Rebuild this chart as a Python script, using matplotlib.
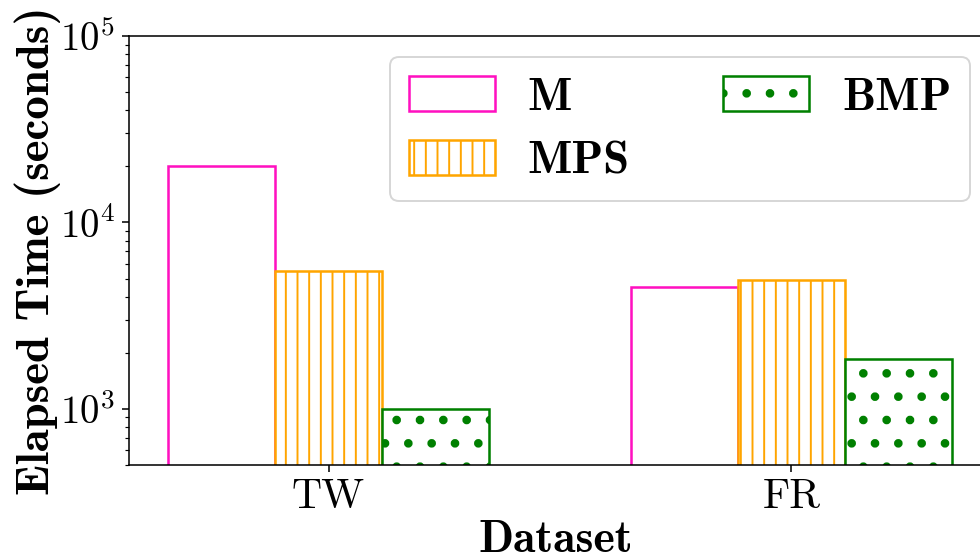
import matplotlib
matplotlib.use("Agg")
import matplotlib.pyplot as plt
import numpy as np

datasets = ["TW", "FR"]
methods = ["M", "MPS", "BMP"]
m_vals = [20000, 4500]
mps_vals = [5500, 4900]
bmp_vals = [1000, 1850]

colors = ["#ff10c0", "orange", "green"]
hatches = [None, "||", "."]
hatch_lw = [1.0, 1.0, 2.0]

plt.rcParams["mathtext.fontset"] = "cm"
plt.rcParams["font.family"] = "cmr10"
plt.rcParams["axes.formatter.use_mathtext"] = True

DPI = 140
fig = plt.figure(figsize=(980 / DPI, 560 / DPI), dpi=DPI)
ax = fig.add_axes([129 / 980, 1 - 465 / 560, (991 - 129) / 980, (465 - 36) / 560])

x = np.arange(len(datasets))
w = 0.231
series = [m_vals, mps_vals, bmp_vals]
for i, (vals, lab, c, h) in enumerate(zip(series, methods, colors, hatches)):
    plt.rcParams["hatch.linewidth"] = hatch_lw[i]
    ax.bar(x + (i - 1) * w, vals, w, label=lab, facecolor="white", edgecolor=c,
           hatch=h, linewidth=1.3)
plt.rcParams["hatch.linewidth"] = 1.0

ax.set_yscale("log")
ax.set_ylim(500, 1e5)
ax.set_xlim(-0.431, 1.431)
ax.set_xticks(x)
ax.set_xticklabels(datasets)
ax.tick_params(axis="x", which="major", labelsize=21.5)
ax.tick_params(axis="y", which="major", labelsize=20)

ax.set_ylabel("Elapsed Time (seconds)", fontsize=24.2, family="cmb10")
ax.yaxis.set_label_coords(-0.079, 0.5)
ax.set_xlabel("Dataset", fontsize=23.5, family="cmb10")
ax.xaxis.set_label_coords((556 - 129) / 862, -0.128)

leg = ax.legend(ncol=2, loc="upper right", prop={"family": "cmb10", "size": 24},
                handlelength=1.85, handleheight=0.8, handletextpad=0.7,
                columnspacing=2.0, borderaxespad=0.45, borderpad=0.4,
                labelspacing=0.45)
for hnd, lw in zip(leg.legend_handles, hatch_lw):
    hnd._hatch_linewidth = lw

fig.savefig("out.png", dpi=DPI)
